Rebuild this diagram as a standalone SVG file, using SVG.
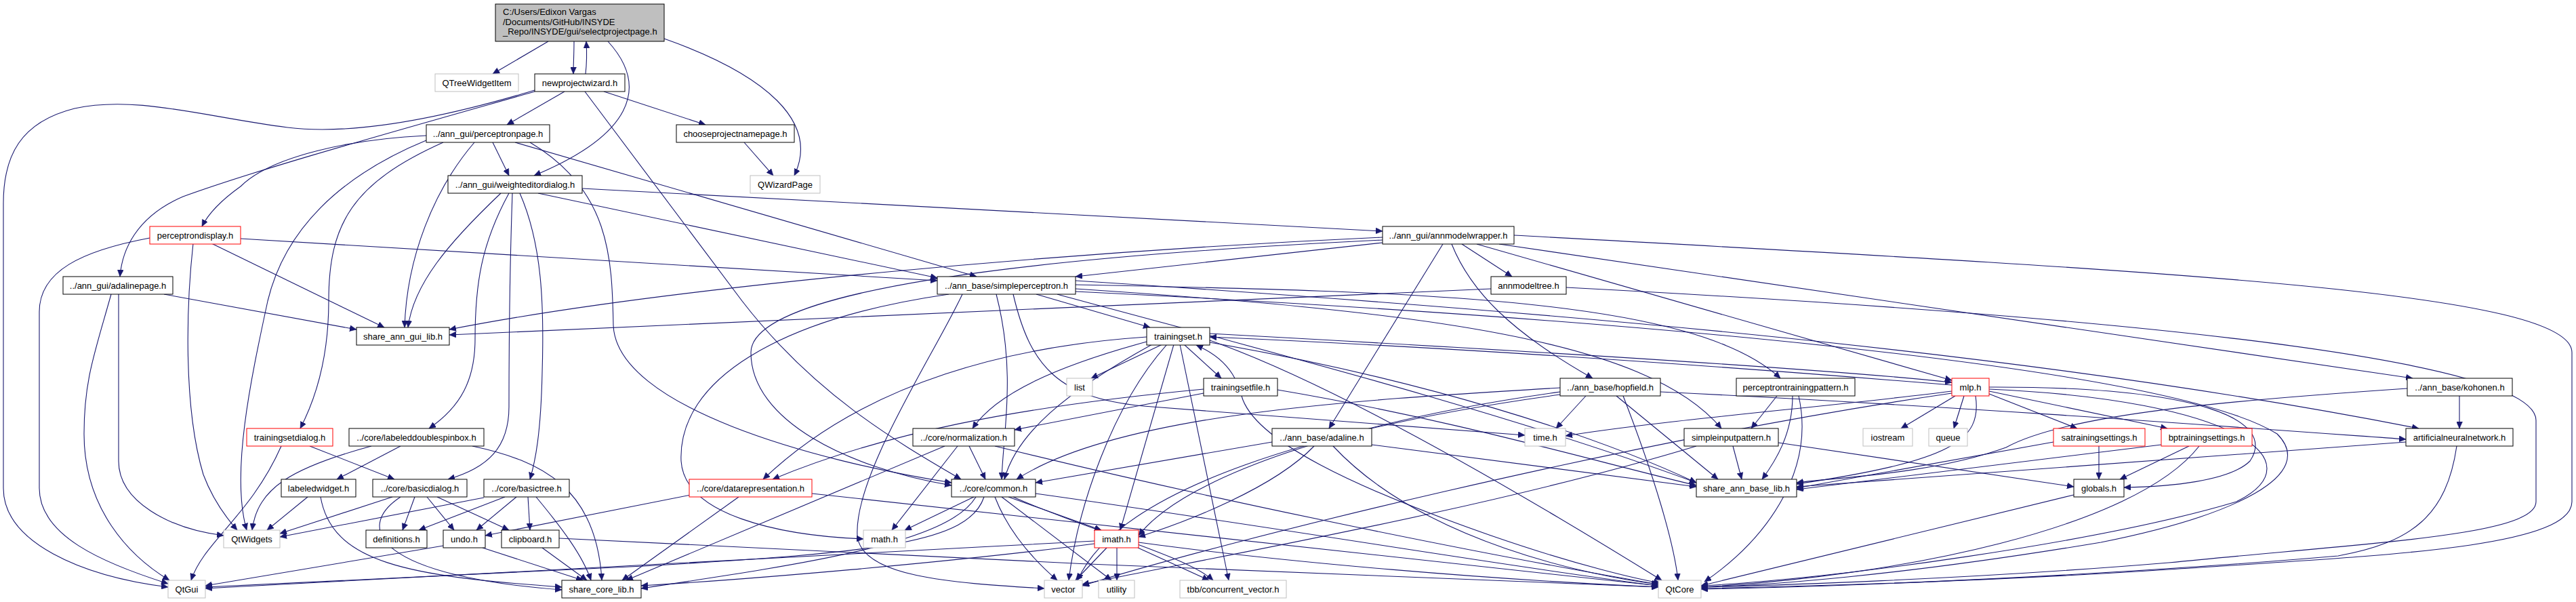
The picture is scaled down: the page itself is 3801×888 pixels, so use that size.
<svg xmlns="http://www.w3.org/2000/svg" width="3801" height="888" viewBox="0 0 3801 888">
<style>
.bg{fill:#fff}
.n rect{fill:#fff;stroke:#000;stroke-width:1}
.n.g rect{stroke:#bfbfbf}
.n.r rect{stroke:#ff0000}
.n.root rect{fill:#bfbfbf}
.n text{font-family:"Liberation Sans",Arial,sans-serif;font-size:13px;fill:#000;text-anchor:middle}
.n.root text{text-anchor:start}
#edges path{fill:none;stroke:#191970;stroke-width:1.1;marker-end:url(#arr)}
</style>
<defs>
<marker id="arr" markerWidth="11" markerHeight="9" refX="10" refY="4.5" orient="auto" markerUnits="userSpaceOnUse">
<path d="M0,0 L10,4.5 L0,9 z" fill="#191970" stroke="#191970" stroke-width="0.5"/>
</marker>
</defs>
<rect class="bg" x="0" y="0" width="3801" height="888"/>
<g id="edges">
<path d="M809,61 L727,109"/>
<path d="M847,61 C847,80 846,95 846,109"/>
<path d="M864,109 C866,92 866,78 865,61"/>
<path d="M897,61 C960,130 930,200 788,259"/>
<path d="M980,57 C1130,110 1210,180 1172,259"/>
<path d="M789,133 C650,175 520,200 424,188 C300,172 200,140 110,160 C30,180 5,230 5,300 L5,720 C5,800 120,850 248,866"/>
<path d="M789,135 C560,200 380,250 270,290 C200,320 180,370 177,408"/>
<path d="M833,135 L748,184"/>
<path d="M891,135 L1041,184"/>
<path d="M863,135 L1095,444 C1200,580 1320,650 1418,707"/>
<path d="M1098,210 L1141,259"/>
<path d="M629,200 C520,205 400,230 355,275 C320,300 305,320 298,334"/>
<path d="M629,207 C500,260 420,340 395,444 C370,560 340,700 364,782"/>
<path d="M654,210 C520,270 485,330 485,444 C485,520 470,580 443,632"/>
<path d="M700,210 C640,280 600,380 597,483"/>
<path d="M727,210 L751,259"/>
<path d="M760,210 L1441,408"/>
<path d="M782,210 C900,280 903,380 905,480 C910,600 1200,680 1404,712"/>
<path d="M221,351 C120,370 58,400 58,460 L58,720 C58,790 150,830 248,861"/>
<path d="M285,359 C275,450 270,600 300,700 C315,740 335,765 350,782"/>
<path d="M312,359 L567,483"/>
<path d="M355,352 L1383,414"/>
<path d="M164,434 C140,520 124,560 124,640 C124,750 190,820 250,856"/>
<path d="M175,434 L175,680 C175,740 250,780 330,790"/>
<path d="M242,434 L526,486"/>
<path d="M739,285 C660,360 610,420 602,483"/>
<path d="M751,285 C710,360 701,420 701,500 C701,560 680,600 633,632"/>
<path d="M756,285 C752,400 751,500 751,600 C751,660 720,690 661,707"/>
<path d="M767,285 C800,360 803,450 800,550 C798,640 790,680 782,707"/>
<path d="M859,278 L2040,341"/>
<path d="M794,285 L1383,410"/>
<path d="M2040,358 L1587,408"/>
<path d="M2040,350 C1600,370 1000,420 663,486"/>
<path d="M2040,354 C1500,380 1108,430 1108,520 C1108,620 1250,690 1404,716"/>
<path d="M2129,360 L1961,632"/>
<path d="M2142,360 C2170,430 2230,490 2350,558"/>
<path d="M2157,360 L2231,408"/>
<path d="M2179,360 L2880,561"/>
<path d="M2212,360 L3560,558"/>
<path d="M2234,347 C3200,400 3795,430 3795,520 L3795,740 C3795,810 3500,820 3200,840 C2900,860 2600,866 2510,868"/>
<path d="M2311,424 C3000,460 3742,520 3742,620 L3742,740 C3742,790 3500,800 3200,830 C2900,855 2600,864 2510,866"/>
<path d="M2200,426 L663,494"/>
<path d="M1529,434 L1697,483"/>
<path d="M1587,420 C2100,430 2500,440 2627,558"/>
<path d="M1587,426 C2100,460 2430,500 2540,632"/>
<path d="M1560,434 C1800,500 2200,600 2503,712"/>
<path d="M1587,414 C2300,460 3000,520 3569,632"/>
<path d="M1587,430 C2400,470 3200,540 3360,640 C3420,700 3300,760 3100,800 C2800,850 2600,864 2510,866"/>
<path d="M1470,434 C1500,550 1480,640 1478,707"/>
<path d="M1420,434 C1380,520 1260,700 1265,790 C1270,850 1400,860 1541,868"/>
<path d="M1495,434 C1520,540 1560,590 1700,600 C1900,615 2100,630 2250,642"/>
<path d="M1400,434 C1150,470 1000,560 1005,680 C1010,760 1150,790 1274,795"/>
<path d="M1715,508 L1610,558"/>
<path d="M1747,508 L1802,558"/>
<path d="M1822,558 C1810,535 1790,520 1765,509"/>
<path d="M1692,497 C1500,510 1280,560 1126,707"/>
<path d="M1692,504 C1560,540 1470,580 1435,632"/>
<path d="M1700,508 C1570,580 1500,640 1482,707"/>
<path d="M1732,508 L1653,782"/>
<path d="M1741,508 L1813,856"/>
<path d="M1722,508 C1640,600 1590,750 1577,856"/>
<path d="M1785,502 C1950,560 2200,700 2452,856"/>
<path d="M1785,505 C2100,560 2350,640 2503,712"/>
<path d="M1785,492 C2300,520 2700,545 2880,564"/>
<path d="M2880,568 C2600,545 2200,515 1785,497"/>
<path d="M1776,580 L1497,634"/>
<path d="M1776,574 C1500,600 1300,640 1140,707"/>
<path d="M1885,575 C2150,620 2350,680 2503,716"/>
<path d="M1832,584 C1850,650 2000,720 2200,790 C2330,835 2420,855 2450,860"/>
<path d="M2385,584 L2535,707"/>
<path d="M2302,572 C2000,590 1650,610 1500,707"/>
<path d="M2302,578 C2000,620 1750,700 1680,790"/>
<path d="M2302,582 C1950,630 1650,720 1590,856"/>
<path d="M2395,584 C2440,700 2470,800 2476,856"/>
<path d="M2340,584 L2296,632"/>
<path d="M2450,578 C2900,600 3300,630 3550,648"/>
<path d="M1877,652 L1528,712"/>
<path d="M2024,656 L2503,718"/>
<path d="M1967,658 C2100,800 2350,850 2447,862"/>
<path d="M1939,658 C1880,720 1750,770 1680,792"/>
<path d="M3629,584 L3629,632"/>
<path d="M3552,573 C3300,590 3050,610 2960,660 C2850,700 2700,705 2651,712"/>
<path d="M3550,652 L2651,718"/>
<path d="M3625,658 C3610,760 3560,800 3450,820 C3100,850 2700,866 2510,869"/>
<path d="M2885,584 L2805,632"/>
<path d="M2898,584 L2883,632"/>
<path d="M2935,581 L3065,632"/>
<path d="M2935,577 L3198,632"/>
<path d="M2915,584 C2925,650 2880,680 2651,714"/>
<path d="M2880,577 C2700,600 2450,620 2310,643"/>
<path d="M2935,571 C3250,570 3360,620 3320,680 C3290,710 3200,718 3134,719"/>
<path d="M2935,574 C3300,590 3420,680 3300,740 C3100,800 2700,855 2510,864"/>
<path d="M2880,580 C2400,650 1800,800 1597,864"/>
<path d="M3097,658 L3097,707"/>
<path d="M3030,652 L2651,720"/>
<path d="M3230,658 L3128,707"/>
<path d="M3189,656 L2651,722"/>
<path d="M3245,658 C3150,780 2800,850 2510,866"/>
<path d="M3060,730 L2510,864"/>
<path d="M2622,584 L2584,632"/>
<path d="M2645,584 C2645,640 2620,680 2600,707"/>
<path d="M2654,584 C2680,700 2600,800 2515,858"/>
<path d="M2557,658 L2570,707"/>
<path d="M2624,653 L3060,718"/>
<path d="M2503,658 C2200,750 1800,820 1597,862"/>
<path d="M1430,658 L1454,707"/>
<path d="M1413,658 L1316,782"/>
<path d="M1394,658 L924,856"/>
<path d="M1468,658 C1800,740 2200,820 2447,862"/>
<path d="M1019,730 L716,790"/>
<path d="M1090,733 L918,856"/>
<path d="M1198,728 C1700,780 2200,840 2447,864"/>
<path d="M1437,733 L1335,782"/>
<path d="M1440,733 C1400,800 1200,830 946,868"/>
<path d="M1452,733 C1430,800 1300,815 950,835 L303,866"/>
<path d="M1468,733 C1490,790 1530,830 1560,856"/>
<path d="M1478,733 L1640,856"/>
<path d="M1488,733 L1625,782"/>
<path d="M1495,733 C1600,780 1750,820 1790,856"/>
<path d="M1528,728 C1900,780 2250,840 2447,864"/>
<path d="M1633,808 L1587,856"/>
<path d="M1648,808 L1648,856"/>
<path d="M1679,808 L1784,856"/>
<path d="M1680,800 C1900,830 2200,855 2447,866"/>
<path d="M1615,798 C1200,820 800,840 303,868"/>
<path d="M1615,802 C1400,830 1100,855 946,864"/>
<path d="M591,658 L497,707"/>
<path d="M548,658 C430,690 380,720 372,782"/>
<path d="M697,658 C800,680 880,720 888,856"/>
<path d="M454,733 L394,782"/>
<path d="M473,733 C490,830 600,850 829,866"/>
<path d="M579,733 L413,787"/>
<path d="M591,733 C520,780 560,850 829,870"/>
<path d="M612,733 L594,782"/>
<path d="M630,733 L670,782"/>
<path d="M645,733 L751,782"/>
<path d="M714,734 L413,792"/>
<path d="M745,733 L618,782"/>
<path d="M762,733 L703,782"/>
<path d="M779,733 L782,782"/>
<path d="M791,733 C830,780 860,820 872,856"/>
<path d="M654,805 L303,864"/>
<path d="M712,808 L860,856"/>
<path d="M800,808 L866,856"/>
<path d="M825,794 C1300,820 2000,850 2447,866"/>
<path d="M415,658 C370,760 300,800 282,856"/>
<path d="M457,658 L582,707"/>
</g>
<g id="n_root" class="n root"><rect x="731" y="6" width="249" height="55"/><text x="742" y="22">C:/Users/Edixon Vargas</text><text x="742" y="37">/Documents/GitHub/INSYDE</text><text x="742" y="51">_Repo/INSYDE/gui/selectprojectpage.h</text></g>
<g id="n_qtreewidgetitem" class="n g"><rect x="642" y="109" width="123" height="26"/><text x="703.5" y="126.5">QTreeWidgetItem</text></g>
<g id="n_newprojectwizard" class="n"><rect x="789" y="109" width="133" height="26"/><text x="855.5" y="126.5">newprojectwizard.h</text></g>
<g id="n_perceptronpage" class="n"><rect x="629" y="184" width="182" height="26"/><text x="720" y="201.5">../ann_gui/perceptronpage.h</text></g>
<g id="n_chooseprojectnamepage" class="n"><rect x="998" y="184" width="174" height="26"/><text x="1085" y="201.5">chooseprojectnamepage.h</text></g>
<g id="n_qwizardpage" class="n g"><rect x="1107" y="259" width="103" height="26"/><text x="1158.5" y="276.5">QWizardPage</text></g>
<g id="n_weighteditordialog" class="n"><rect x="661" y="259" width="198" height="26"/><text x="760" y="276.5">../ann_gui/weighteditordialog.h</text></g>
<g id="n_perceptrondisplay" class="n r"><rect x="221" y="334" width="134" height="26"/><text x="288" y="351.5">perceptrondisplay.h</text></g>
<g id="n_annmodelwrapper" class="n"><rect x="2040" y="334" width="194" height="26"/><text x="2137" y="351.5">../ann_gui/annmodelwrapper.h</text></g>
<g id="n_adalinepage" class="n"><rect x="93" y="408" width="162" height="26"/><text x="174" y="425.5">../ann_gui/adalinepage.h</text></g>
<g id="n_simpleperceptron" class="n"><rect x="1383" y="408" width="204" height="26"/><text x="1485" y="425.5">../ann_base/simpleperceptron.h</text></g>
<g id="n_annmodeltree" class="n"><rect x="2200" y="408" width="111" height="26"/><text x="2255.5" y="425.5">annmodeltree.h</text></g>
<g id="n_share_ann_gui_lib" class="n"><rect x="526" y="483" width="137" height="26"/><text x="594.5" y="500.5">share_ann_gui_lib.h</text></g>
<g id="n_trainingset" class="n"><rect x="1692" y="483" width="93" height="26"/><text x="1738.5" y="500.5">trainingset.h</text></g>
<g id="n_list" class="n g"><rect x="1574" y="558" width="38" height="26"/><text x="1593" y="575.5">list</text></g>
<g id="n_trainingsetfile" class="n"><rect x="1776" y="558" width="109" height="26"/><text x="1830.5" y="575.5">trainingsetfile.h</text></g>
<g id="n_hopfield" class="n"><rect x="2302" y="558" width="148" height="26"/><text x="2376" y="575.5">../ann_base/hopfield.h</text></g>
<g id="n_perceptrontrainingpattern" class="n"><rect x="2562" y="558" width="175" height="26"/><text x="2649.5" y="575.5">perceptrontrainingpattern.h</text></g>
<g id="n_mlp" class="n r"><rect x="2880" y="558" width="55" height="26"/><text x="2907.5" y="575.5">mlp.h</text></g>
<g id="n_kohonen" class="n"><rect x="3552" y="558" width="155" height="26"/><text x="3629.5" y="575.5">../ann_base/kohonen.h</text></g>
<g id="n_trainingsetdialog" class="n r"><rect x="364" y="632" width="127" height="26"/><text x="427.5" y="649.5">trainingsetdialog.h</text></g>
<g id="n_labeleddoublespinbox" class="n"><rect x="515" y="632" width="199" height="26"/><text x="614.5" y="649.5">../core/labeleddoublespinbox.h</text></g>
<g id="n_normalization" class="n"><rect x="1347" y="632" width="150" height="26"/><text x="1422" y="649.5">../core/normalization.h</text></g>
<g id="n_adaline" class="n"><rect x="1877" y="632" width="147" height="26"/><text x="1950.5" y="649.5">../ann_base/adaline.h</text></g>
<g id="n_time" class="n g"><rect x="2250" y="632" width="60" height="26"/><text x="2280" y="649.5">time.h</text></g>
<g id="n_simpleinputpattern" class="n"><rect x="2485" y="632" width="139" height="26"/><text x="2554.5" y="649.5">simpleinputpattern.h</text></g>
<g id="n_iostream" class="n g"><rect x="2749" y="632" width="73" height="26"/><text x="2785.5" y="649.5">iostream</text></g>
<g id="n_queue" class="n g"><rect x="2846" y="632" width="57" height="26"/><text x="2874.5" y="649.5">queue</text></g>
<g id="n_satrainingsettings" class="n r"><rect x="3030" y="632" width="135" height="26"/><text x="3097.5" y="649.5">satrainingsettings.h</text></g>
<g id="n_bptrainingsettings" class="n r"><rect x="3189" y="632" width="134" height="26"/><text x="3256" y="649.5">bptrainingsettings.h</text></g>
<g id="n_artificialneuralnetwork" class="n"><rect x="3550" y="632" width="158" height="26"/><text x="3629" y="649.5">artificialneuralnetwork.h</text></g>
<g id="n_labeledwidget" class="n"><rect x="415" y="707" width="110" height="26"/><text x="470" y="724.5">labeledwidget.h</text></g>
<g id="n_basicdialog" class="n"><rect x="550" y="707" width="139" height="26"/><text x="619.5" y="724.5">../core/basicdialog.h</text></g>
<g id="n_basictree" class="n"><rect x="714" y="707" width="126" height="26"/><text x="777" y="724.5">../core/basictree.h</text></g>
<g id="n_datarepresentation" class="n r"><rect x="1017" y="707" width="181" height="26"/><text x="1107.5" y="724.5">../core/datarepresentation.h</text></g>
<g id="n_common" class="n"><rect x="1404" y="707" width="124" height="26"/><text x="1466" y="724.5">../core/common.h</text></g>
<g id="n_share_ann_base_lib" class="n"><rect x="2503" y="707" width="148" height="26"/><text x="2577" y="724.5">share_ann_base_lib.h</text></g>
<g id="n_globals" class="n"><rect x="3060" y="707" width="74" height="26"/><text x="3097" y="724.5">globals.h</text></g>
<g id="n_qtwidgets" class="n g"><rect x="330" y="782" width="83" height="26"/><text x="371.5" y="799.5">QtWidgets</text></g>
<g id="n_definitions" class="n"><rect x="540" y="782" width="90" height="26"/><text x="585" y="799.5">definitions.h</text></g>
<g id="n_undo" class="n"><rect x="654" y="782" width="62" height="26"/><text x="685" y="799.5">undo.h</text></g>
<g id="n_clipboard" class="n"><rect x="740" y="782" width="85" height="26"/><text x="782.5" y="799.5">clipboard.h</text></g>
<g id="n_math" class="n g"><rect x="1274" y="782" width="62" height="26"/><text x="1305" y="799.5">math.h</text></g>
<g id="n_imath" class="n r"><rect x="1615" y="782" width="65" height="26"/><text x="1647.5" y="799.5">imath.h</text></g>
<g id="n_qtgui" class="n g"><rect x="248" y="856" width="55" height="26"/><text x="275.5" y="873.5">QtGui</text></g>
<g id="n_share_core_lib" class="n"><rect x="829" y="856" width="117" height="26"/><text x="887.5" y="873.5">share_core_lib.h</text></g>
<g id="n_vector" class="n g"><rect x="1541" y="856" width="56" height="26"/><text x="1569" y="873.5">vector</text></g>
<g id="n_utility" class="n g"><rect x="1621" y="856" width="53" height="26"/><text x="1647.5" y="873.5">utility</text></g>
<g id="n_concurrent_vector" class="n g"><rect x="1741" y="856" width="157" height="26"/><text x="1819.5" y="873.5">tbb/concurrent_vector.h</text></g>
<g id="n_qtcore" class="n g"><rect x="2447" y="856" width="63" height="26"/><text x="2478.5" y="873.5">QtCore</text></g>
</svg>
